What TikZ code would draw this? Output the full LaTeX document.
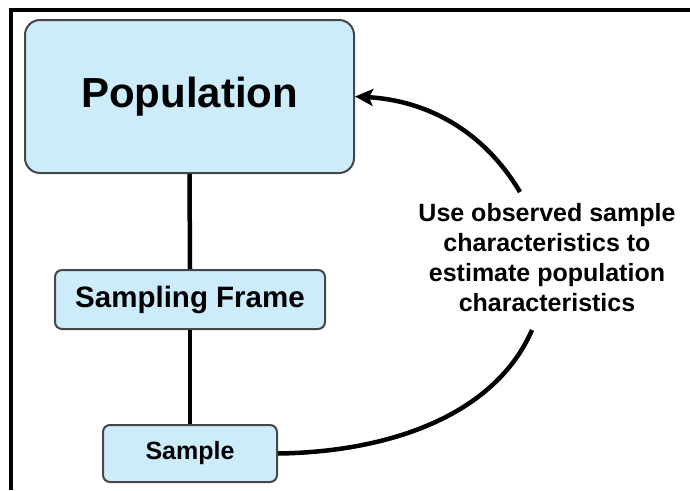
\documentclass[tikz,border=0pt]{standalone}
\usepackage{fontspec}
\setmainfont{Liberation Sans}
\usetikzlibrary{arrows.meta}
\definecolor{boxfill}{RGB}{204,236,251}
\definecolor{boxline}{RGB}{70,70,70}
\tikzset{
  stagebox/.style={draw=boxline, line width=2pt, fill=boxfill, inner sep=0pt,
    font=\bfseries, align=center},
  link/.style={line width=4.5pt, draw=black},
  loop/.style={line width=4.5pt, draw=black},
}
\begin{document}
\begin{tikzpicture}[x=1pt, y=-1pt]
  \useasboundingbox (0,0) rectangle (690,490);
  % outer frame (top and left edges)
  \draw[line width=3.5pt] (11,490) -- (11,10) -- (690,10);

  \node[stagebox, rounded corners=15pt, minimum width=329pt, minimum height=153pt,
        font=\bfseries\fontsize{42}{48}\selectfont] (pop) at (189.5,96.5) {Population};
  \node[stagebox, rounded corners=7pt, minimum width=270pt, minimum height=59pt,
        font=\bfseries\fontsize{29.5}{34}\selectfont] (frame) at (190,299.5) {Sampling Frame};
  \node[stagebox, rounded corners=7pt, minimum width=174pt, minimum height=57pt,
        font=\bfseries\fontsize{25}{30}\selectfont] (smp) at (190,453.5) {Sample};

  \draw[link] (pop.south) -- (frame.north);
  \draw[link] (frame.south) -- (smp.north);

  \node[align=center, inner sep=0pt, font=\bfseries\fontsize{25}{30}\selectfont]
    (note) at (547,258) {Use observed sample\\characteristics to\\estimate population\\characteristics};

  \coordinate (arcTop) at (520,192);
  \coordinate (arcBot) at (532,330);
  \draw[loop, -{Stealth[length=18pt, width=17pt, inset=4pt]}]
    (arcTop) .. controls (480,125) and (420,100) .. (pop.east);
  \draw[loop] (arcBot) .. controls (495,415) and (390,452) .. (smp.east);
\end{tikzpicture}
\end{document}
